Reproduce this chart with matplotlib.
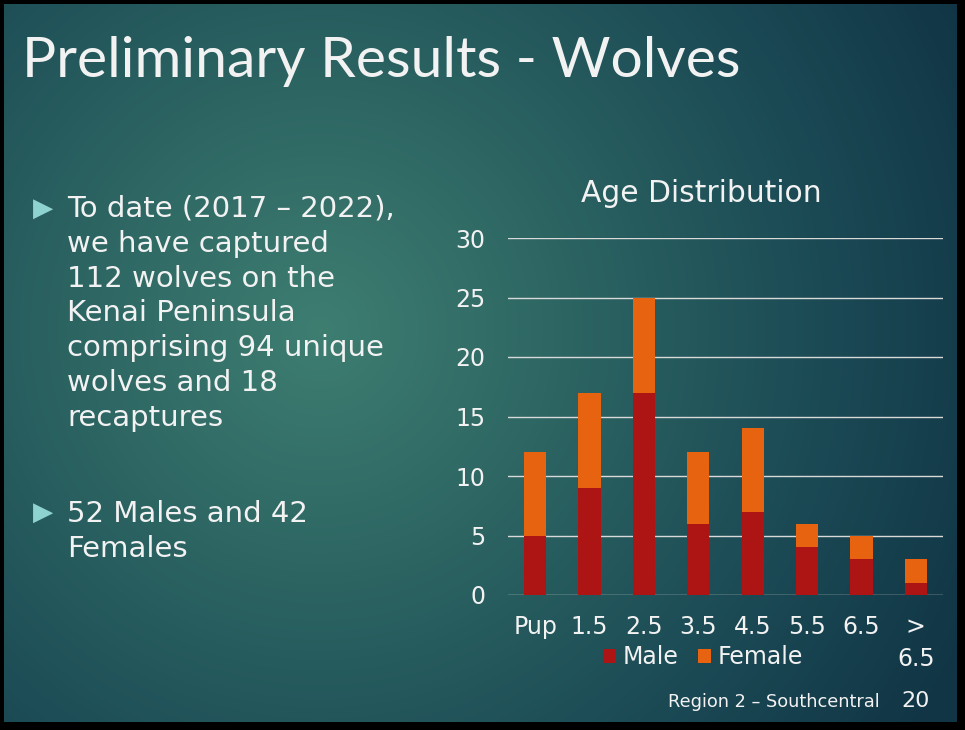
import numpy as np
import matplotlib
matplotlib.use("Agg")
import matplotlib.pyplot as plt
from matplotlib.colors import LinearSegmentedColormap
from matplotlib.patches import Rectangle

categories = ["Pup", "1.5", "2.5", "3.5", "4.5", "5.5", "6.5", ">\n6.5"]
male = [5, 9, 17, 6, 7, 4, 3, 1]
female = [7, 8, 8, 6, 7, 2, 2, 2]
yticks = [0, 5, 10, 15, 20, 25, 30]

plt.rcParams["font.family"] = ["DejaVu Sans"]

W, H = 965, 730
fig = plt.figure(figsize=(W / 100, H / 100), dpi=100)

# background radial gradient
bg = fig.add_axes([0, 0, 1, 1])
bg.set_xlim(0, W)
bg.set_ylim(H, 0)
bg.axis("off")
yy, xx = np.mgrid[0:H, 0:W]
r = np.sqrt((xx - 320) ** 2 + (yy - 330) ** 2)
t = np.clip(r / 720, 0, 1)
cmap = LinearSegmentedColormap.from_list(
    "bg", [(0, "#3e7e71"), (0.35, "#2c6462"), (0.7, "#1b4a55"), (1, "#113545")])
bg.imshow(t, cmap=cmap, extent=(0, W, H, 0), aspect="auto", vmin=0, vmax=1)
# black frame
for rect in [(0, 0, W, 4), (0, 722, W, 8), (0, 0, 4, H), (957, 0, 8, H)]:
    bg.add_patch(Rectangle(rect[:2], rect[2], rect[3], color="black", lw=0))

TXT = "#f2f2f2"

def T(x, y, s, **kw):
    fig.text(x / W, 1 - y / H, s, **kw)

# slide title
T(22, 77, "Preliminary Results - Wolves", color=TXT, fontsize=41,
  va="baseline", ha="left", family=["Lato", "DejaVu Sans"])

# bullets
bullet_col = "#8fd3d0"
lines1 = ["To date (2017 – 2022),", "we have captured", "112 wolves on the",
          "Kenai Peninsula", "comprising 94 unique", "wolves and 18", "recaptures"]
for i, s in enumerate(lines1):
    T(67, 217 + i * 34.8, s, color=TXT, fontsize=21, va="baseline")
lines2 = ["52 Males and 42", "Females"]
for i, s in enumerate(lines2):
    T(67, 522 + i * 34.8, s, color=TXT, fontsize=21, va="baseline")
for yb in (209, 513):
    T(43, yb, "▶", color=bullet_col, fontsize=19, ha="center", va="center")

# footer
T(880, 702, "Region 2 – Southcentral", color=TXT, fontsize=12.8,
  ha="right", va="center")
T(916, 701, "20", color=TXT, fontsize=16, ha="center", va="center")

# chart
ax = fig.add_axes([508 / W, 1 - 595 / H, 435 / W, 357 / H])
ax.patch.set_alpha(0)
x = np.arange(len(categories))
ax.bar(x, male, width=0.41, color="#ad1515", label="Male", zorder=3)
ax.bar(x, female, width=0.41, bottom=male, color="#e86310", label="Female", zorder=3)
ax.set_xlim(-0.5, len(categories) - 0.5)
ax.set_ylim(0, 30)
ax.set_yticks(yticks)
ax.set_xticks(x)
ax.set_xticklabels(categories, linespacing=1.43)
ax.tick_params(axis="both", length=0, colors=TXT, labelsize=17)
ax.tick_params(axis="y", pad=16.5)
ax.tick_params(axis="x", pad=14.5)
ax.grid(axis="y", color="#d9d9d9", lw=1, zorder=1)
for sp in ax.spines.values():
    sp.set_visible(False)
T(701, 194, "Age Distribution", color=TXT, fontsize=21.4, ha="center", va="center")
leg = ax.legend(loc="center", bbox_to_anchor=((703 - 508) / 435, (595 - 657) / 357),
                ncol=2, frameon=False, fontsize=17, handlelength=0.55,
                handleheight=0.55, handletextpad=0.25, columnspacing=0.85,
                labelcolor=TXT)

fig.savefig("out.png", dpi=100)
